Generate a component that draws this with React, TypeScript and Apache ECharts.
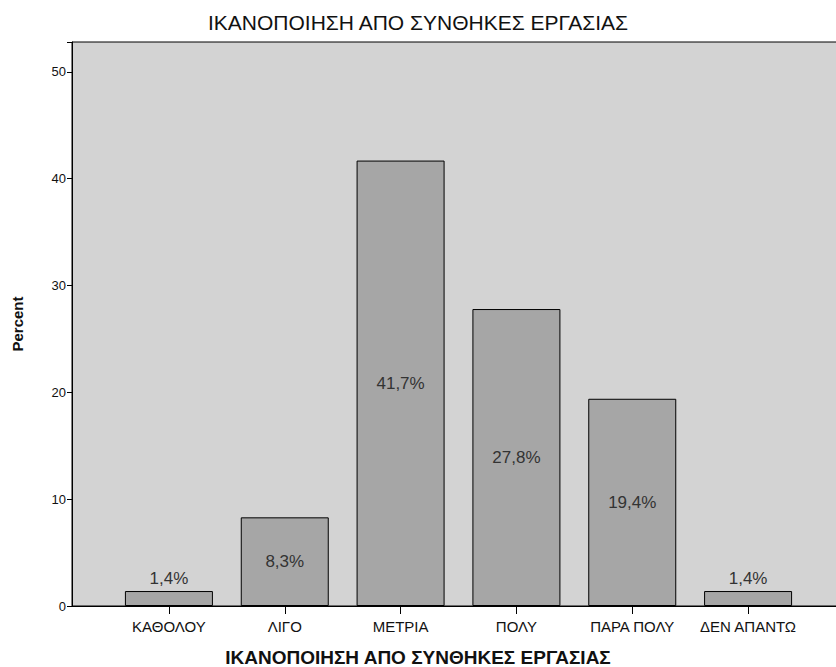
import React, { useEffect, useRef } from "react";
import * as echarts from "echarts";

const title = "ΙΚΑΝΟΠΟΙΗΣΗ ΑΠΟ ΣΥΝΘΗΚΕΣ ΕΡΓΑΣΙΑΣ";
const xTitle = "ΙΚΑΝΟΠΟΙΗΣΗ ΑΠΟ ΣΥΝΘΗΚΕΣ ΕΡΓΑΣΙΑΣ";
const categories = ["ΚΑΘΟΛΟΥ", "ΛΙΓΟ", "ΜΕΤΡΙΑ", "ΠΟΛΥ", "ΠΑΡΑ ΠΟΛΥ", "ΔΕΝ ΑΠΑΝΤΩ"];
const percents = [1.4, 8.3, 41.7, 27.8, 19.4, 1.4];
const yTicks = [0, 10, 20, 30, 40, 50];
const yMax = 52.8;

export default function App() {
  const ref = useRef<HTMLDivElement>(null);
  useEffect(() => {
    if (!ref.current) return;
    const chart = echarts.init(ref.current, null, { renderer: "svg" });
    const font = "Liberation Sans, Arial, sans-serif";
    chart.setOption({
      animation: false,
      backgroundColor: "#ffffff",
      textStyle: { fontFamily: font },
      title: [
        {
          text: title,
          left: "center",
          top: 7,
          textStyle: { fontSize: 21, fontWeight: "normal", color: "#111", fontFamily: font },
        },
        {
          text: xTitle,
          left: "center",
          top: 643,
          textStyle: { fontSize: 19, fontWeight: "bold", color: "#111", fontFamily: font },
        },
      ],
      grid: [
        {
          left: 72,
          top: 42,
          right: -10,
          bottom: 61,
          outerBoundsMode: "none",
          containLabel: false,
          show: true,
          backgroundColor: "#d3d3d3",
          borderColor: "#000",
          borderWidth: 1,
        },
        { left: 111, right: 30, top: 42, bottom: 61, outerBoundsMode: "none", containLabel: false },
      ],
      xAxis: [
        {
          type: "value",
          gridIndex: 0,
          min: 0,
          max: 1,
          axisLine: { show: true, lineStyle: { color: "#000", width: 1 } },
          axisTick: { show: false },
          axisLabel: { show: false },
          splitLine: { show: false },
        },
        {
          type: "category",
          gridIndex: 1,
          data: categories,
          axisLine: { show: false },
          axisTick: { show: true, alignWithLabel: true, length: 8, lineStyle: { color: "#000" } },
          axisLabel: { fontSize: 15, color: "#111", margin: 13, interval: 0, fontFamily: font },
        },
      ],
      yAxis: [
        {
          type: "value",
          gridIndex: 0,
          min: 0,
          max: yMax,
          interval: 10,
          axisLine: { show: true, lineStyle: { color: "#000" } },
          axisTick: { show: true, length: 5, lineStyle: { color: "#000" } },
          axisLabel: {
            fontSize: 13,
            color: "#111",
            margin: 6,
            formatter: (v: number) => (yTicks.includes(v) ? String(v) : ""),
          },
          splitLine: { show: false },
          name: "Percent",
          nameLocation: "middle",
          nameGap: 47,
          nameTextStyle: { fontSize: 15, fontWeight: "bold", color: "#111", fontFamily: font },
        },
        {
          type: "value",
          gridIndex: 1,
          min: 0,
          max: yMax,
          interval: 10,
          show: false,
          splitLine: { show: false },
        },
      ],
      series: [
        {
          type: "bar",
          xAxisIndex: 1,
          yAxisIndex: 1,
          data: percents.map((v) => ({
            value: v,
            label: { position: v < 5 ? "top" : "inside" },
          })),
          barWidth: 88,
          itemStyle: { color: "#a6a6a6", borderColor: "#000", borderWidth: 1 },
          label: {
            show: true,
            fontSize: 17,
            color: "#333",
            fontFamily: font,
            distance: 4,
            formatter: (p: any) => String(p.value).replace(".", ",") + "%",
          },
        },
      ],
    });
    return () => chart.dispose();
  }, []);
  return <div ref={ref} style={{ width: 836, height: 667, position: "absolute", left: 0, top: 0 }} />;
}
